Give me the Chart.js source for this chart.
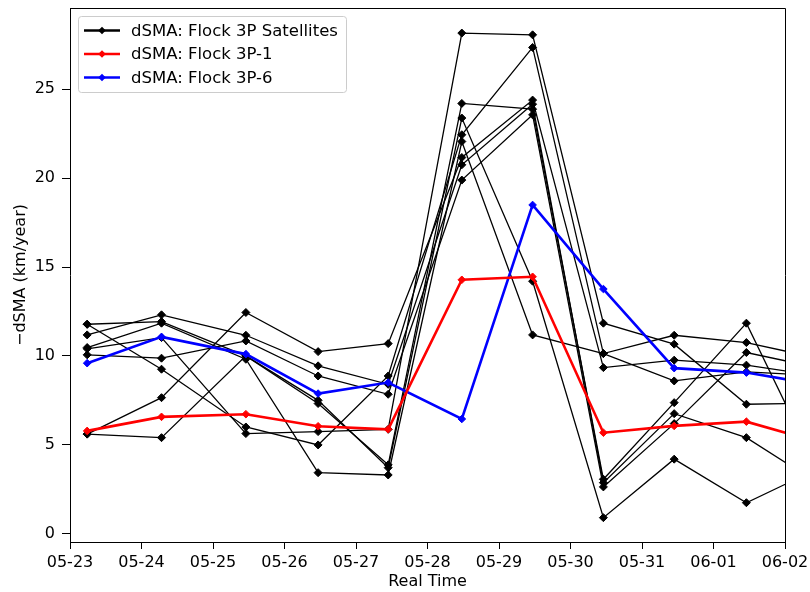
<!DOCTYPE html>
<html>
<head>
<meta charset="utf-8">
<script src="https://cdn.jsdelivr.net/npm/chart.js@4.4.1/dist/chart.umd.min.js"></script>
<style>
  html, body { margin: 0; padding: 0; background: #fff; }
  #wrap { width: 810px; height: 592px; }
</style>
</head>
<body>
<div id="wrap"><canvas id="chart" width="810" height="592"></canvas></div>
<script>
// time of each estimate, in days after 05-23 00:00
const days = [0.24, 1.28, 2.46, 3.47, 4.45, 5.48, 6.47, 7.46, 8.45, 9.46, 10.46];
const tickLabels = ['05-23', '05-24', '05-25', '05-26', '05-27', '05-28', '05-29', '05-30', '05-31', '06-01', '06-02'];
const yTicks = [0, 5, 10, 15, 20, 25];

// -dSMA (km/year) of the individual Flock 3P satellites
const sat1 = [11.78, 9.25, 6.00, 4.99, 8.87, 22.44, 27.35, 10.13, 11.16, 10.75, 9.87];
const sat2 = [11.78, 11.93, 10.00, 7.50, 3.71, 23.38, 14.20, 0.90, 4.19, 1.74, 3.65];
const sat3 = [11.18, 12.31, 11.16, 9.44, 8.40, 20.75, 24.16, 2.87, 6.75, 5.40, 2.83];
const sat4 = [10.47, 11.84, 9.81, 3.43, 3.30, 22.06, 11.18, 10.13, 8.59, 9.10, 8.90];
const sat5 = [10.40, 11.03, 5.63, 5.74, 5.87, 28.16, 28.06, 11.84, 10.66, 7.28, 7.35];
const sat6 = [10.06, 9.87, 10.84, 8.87, 7.84, 19.89, 23.56, 2.63, 6.19, 10.19, 9.33];
const sat7 = [5.60, 7.65, 12.44, 10.24, 10.69, 21.16, 24.39, 9.34, 9.76, 9.48, 8.89];
const sat8 = [5.60, 5.40, 10.00, 7.32, 3.87, 24.20, 23.88, 3.06, 7.37, 11.84, 3.55];
const flock3p1 = [5.78, 6.57, 6.72, 6.04, 5.87, 14.28, 14.45, 5.68, 6.06, 6.30, 5.16];
const flock3p6 = [9.59, 11.07, 10.10, 7.88, 8.50, 6.45, 18.49, 13.76, 9.31, 9.06, 8.38];

const FONT = "'DejaVu Sans', sans-serif";
const toPoints = (vals) => vals.map((v, i) => ({ x: days[i], y: v }));

const satellites = [sat1, sat2, sat3, sat4, sat5, sat6, sat7, sat8];
const datasets = satellites.map((s, i) => ({
  label: i === 0 ? 'dSMA: Flock 3P Satellites' : '',
  inLegend: i === 0,
  data: toPoints(s),
  borderColor: '#000',
  backgroundColor: '#000',
  borderWidth: 1.3,
  pointStyle: 'rectRot',
  pointRadius: 4,
  pointBorderWidth: 1,
  order: 1
}));
datasets.push({
  label: 'dSMA: Flock 3P-1', inLegend: true, data: toPoints(flock3p1),
  borderColor: '#ff0000', backgroundColor: '#ff0000', borderWidth: 2.6,
  pointStyle: 'rectRot', pointRadius: 3.8, pointBorderWidth: 1, order: 0
});
datasets.push({
  label: 'dSMA: Flock 3P-6', inLegend: true, data: toPoints(flock3p6),
  borderColor: '#0000ff', backgroundColor: '#0000ff', borderWidth: 2.6,
  pointStyle: 'rectRot', pointRadius: 3.8, pointBorderWidth: 1, order: 0
});

// top/right spines plus a matplotlib style legend box
const frameLegend = {
  id: 'frameLegend',
  afterDraw(chart) {
    const { ctx, chartArea: a } = chart;
    ctx.save();
    ctx.strokeStyle = '#000';
    ctx.lineWidth = 1;
    ctx.beginPath();
    ctx.moveTo(Math.round(a.left) + 0.5, Math.round(a.top) + 0.5);
    ctx.lineTo(Math.round(a.right) + 0.5, Math.round(a.top) + 0.5);
    ctx.lineTo(Math.round(a.right) + 0.5, Math.round(a.bottom) + 0.5);
    ctx.stroke();

    const items = chart.data.datasets.filter(d => d.inLegend);
    const bx = 78.5, by = 16.5, bw = 268, bh = 76, r = 3;
    ctx.fillStyle = 'rgba(255,255,255,0.8)';
    ctx.strokeStyle = '#cccccc';
    ctx.beginPath();
    ctx.moveTo(bx + r, by);
    ctx.arcTo(bx + bw, by, bx + bw, by + bh, r);
    ctx.arcTo(bx + bw, by + bh, bx, by + bh, r);
    ctx.arcTo(bx, by + bh, bx, by, r);
    ctx.arcTo(bx, by, bx + bw, by, r);
    ctx.closePath();
    ctx.fill();
    ctx.stroke();

    ctx.font = '16.5px ' + FONT;
    ctx.textBaseline = 'middle';
    items.forEach((d, i) => {
      const y = 30.5 + i * 23.5;
      ctx.strokeStyle = d.borderColor;
      ctx.lineWidth = 2.6;
      ctx.beginPath();
      ctx.moveTo(84, y);
      ctx.lineTo(120, y);
      ctx.stroke();
      ctx.fillStyle = d.borderColor;
      ctx.beginPath();
      ctx.moveTo(102 - 3.8, y);
      ctx.lineTo(102, y - 3.8);
      ctx.lineTo(102 + 3.8, y);
      ctx.lineTo(102, y + 3.8);
      ctx.closePath();
      ctx.fill();
      ctx.fillStyle = '#000';
      ctx.fillText(d.label, 131, y + 1);
    });
    ctx.restore();
  }
};

new Chart(document.getElementById('chart'), {
  type: 'line',
  data: { datasets },
  options: {
    responsive: false,
    devicePixelRatio: 1,
    animation: false,
    layout: { padding: { top: 8, right: 25, left: 0, bottom: 0 } },
    plugins: { legend: { display: false }, tooltip: { enabled: false } },
    scales: {
      x: {
        type: 'linear',
        min: 0,
        max: 10,
        afterBuildTicks: (s) => { s.ticks = tickLabels.map((_, i) => ({ value: i })); },
        afterFit: (s) => { s.height = 50; s.paddingLeft = 0; s.paddingRight = 0; },
        ticks: {
          autoSkip: false, maxRotation: 0, padding: 4, color: '#000',
          font: { family: FONT, size: 16 },
          callback: (v) => tickLabels[Math.round(v)]
        },
        grid: { drawOnChartArea: false, tickLength: 7, color: '#000' },
        border: { color: '#000', width: 1 },
        title: {
          display: true, text: 'Real Time', color: '#000',
          font: { family: FONT, size: 16 }, padding: { top: 0, bottom: 1 }
        }
      },
      y: {
        type: 'linear',
        min: -0.47,
        max: 29.57,
        afterBuildTicks: (s) => { s.ticks = yTicks.map(v => ({ value: v })); },
        afterFit: (s) => { s.width = 70; s.paddingTop = 0; s.paddingBottom = 0; },
        ticks: { padding: 7, color: '#000', font: { family: FONT, size: 16 } },
        grid: { drawOnChartArea: false, tickLength: 8, color: '#000' },
        border: { color: '#000', width: 1 },
        title: {
          display: true, text: '\u2212dSMA (km/year)', color: '#000',
          font: { family: FONT, size: 16 }, padding: { top: 11, bottom: 0 }
        }
      }
    }
  },
  plugins: [frameLegend]
});
</script>
</body>
</html>
